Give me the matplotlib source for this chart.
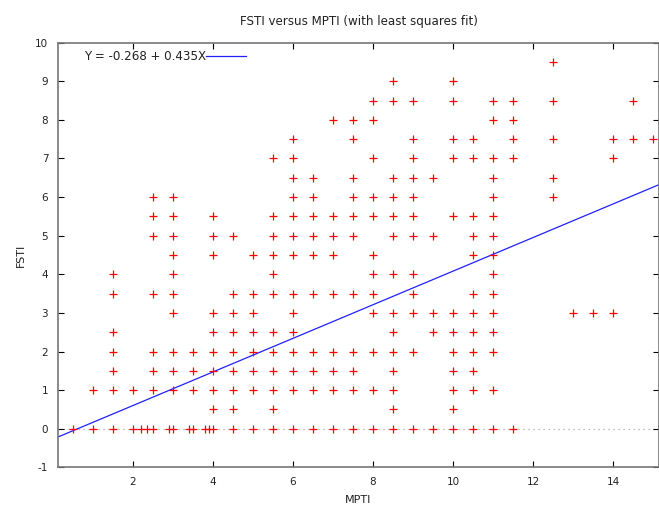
import matplotlib

matplotlib.use("Agg")
import matplotlib.pyplot as plt
import numpy as np

plt.rcParams["axes.unicode_minus"] = False

# MPTI values (columns of the scatter) and the FSTI values seen in each column
mpti_levels = [0.5, 1.0, 1.5, 2.0, 2.5, 3.0, 3.5, 4.0, 4.5, 5.0, 5.5, 6.0,
               6.5, 7.0, 7.5, 8.0, 8.5, 9.0, 9.5, 10.0, 10.5, 11.0, 11.5,
               12.5, 13.0, 13.5, 14.0, 14.5, 15.0]
fsti_at_level = [
    [0],
    [0, 1],
    [0, 1, 1.5, 2, 2.5, 3.5, 4],
    [0, 1],
    [0, 1, 1.5, 2, 3.5, 5, 5.5, 6],
    [0, 1, 1.5, 2, 3, 3.5, 4, 4.5, 5, 5.5, 6],
    [0, 1, 1.5, 2],
    [0, 0.5, 1, 1.5, 2, 2.5, 3, 4.5, 5, 5.5],
    [0, 0.5, 1, 1.5, 2, 2.5, 3, 3.5, 5],
    [0, 1, 1.5, 2, 2.5, 3, 3.5, 4.5],
    [0, 0.5, 1, 1.5, 2, 2.5, 3.5, 4, 4.5, 5, 5.5, 7],
    [0, 1, 1.5, 2, 2.5, 3, 3.5, 4.5, 5, 5.5, 6, 6.5, 7, 7.5],
    [0, 1, 1.5, 2, 3.5, 4.5, 5, 5.5, 6, 6.5],
    [0, 1, 1.5, 2, 3.5, 4.5, 5, 5.5, 8],
    [0, 1, 1.5, 2, 3.5, 5, 5.5, 6, 6.5, 7.5, 8],
    [0, 1, 2, 3, 3.5, 4, 4.5, 5.5, 6, 7, 8, 8.5],
    [0, 0.5, 1, 1.5, 2, 2.5, 3, 4, 5, 5.5, 6, 6.5, 8.5, 9],
    [0, 2, 3, 3.5, 4, 5, 5.5, 6, 6.5, 7, 7.5, 8.5],
    [0, 2.5, 3, 5, 6.5],
    [0, 0.5, 1, 1.5, 2, 2.5, 3, 5.5, 7, 7.5, 8.5, 9],
    [0, 1, 1.5, 2, 2.5, 3, 3.5, 4.5, 5, 5.5, 7, 7.5],
    [0, 1, 2, 2.5, 3, 3.5, 4, 4.5, 5, 5.5, 6, 6.5, 7, 8, 8.5],
    [0, 7, 7.5, 8, 8.5],
    [6, 6.5, 7.5, 8.5, 9.5],
    [3],
    [3],
    [3, 7, 7.5],
    [7.5, 8.5],
    [7.5],
]
# extra off-grid MPTI values with FSTI = 0
mpti_zero_extra = [2.2, 2.35, 2.9, 3.4, 3.8, 3.9]

intercept = -0.268
slope = 0.435

mpti = []
fsti = []
for x, ys in zip(mpti_levels, fsti_at_level):
    mpti += [x] * len(ys)
    fsti += ys
mpti += mpti_zero_extra
fsti += [0] * len(mpti_zero_extra)

fig = plt.figure(figsize=(6.59, 5.08), dpi=100)
ax = fig.add_axes([0.088, 0.080, 0.912, 0.836])

xmin, xmax = 0.125, 15.15
ax.axhline(0, color="#aaaaaa", linestyle=(0, (1, 3)), linewidth=0.9, zorder=1)
ax.plot(mpti, fsti, linestyle="none", marker="+", color="red",
        markersize=6, markeredgewidth=0.9, zorder=3)

xx = np.array([xmin, xmax])
ax.plot(xx, intercept + slope * xx, color="#2020ff", linewidth=0.9,
        label=f"Y = {intercept:.3f} + {slope:.3f}X", zorder=2)

ax.set_xlim(xmin, xmax)
ax.set_ylim(-1, 10)
ax.set_xticks(range(2, 15, 2))
ax.set_yticks(range(-1, 11))

ax.tick_params(direction="in", length=4, width=0.8, top=True, right=True,
               labelsize=7.5, colors="black", labelcolor="#222222", pad=7)
for side in ["left", "bottom", "top", "right"]:
    ax.spines[side].set_color("#777777")
    ax.spines[side].set_linewidth(1.2)

ax.set_title("FSTI versus MPTI (with least squares fit)", fontsize=8.6,
             color="#222222", pad=13)
ax.set_xlabel("MPTI", fontsize=8, color="#222222", labelpad=6)
ax.set_ylabel("FSTI", fontsize=8, color="#222222", labelpad=7)

ax.legend(loc="upper left", bbox_to_anchor=(0.025, 1.008), frameon=False,
          markerfirst=False, fontsize=8.6, handlelength=3.3, handletextpad=0.05,
          labelcolor="#222222")

fig.savefig("out.png", dpi=100)
plt.close(fig)
